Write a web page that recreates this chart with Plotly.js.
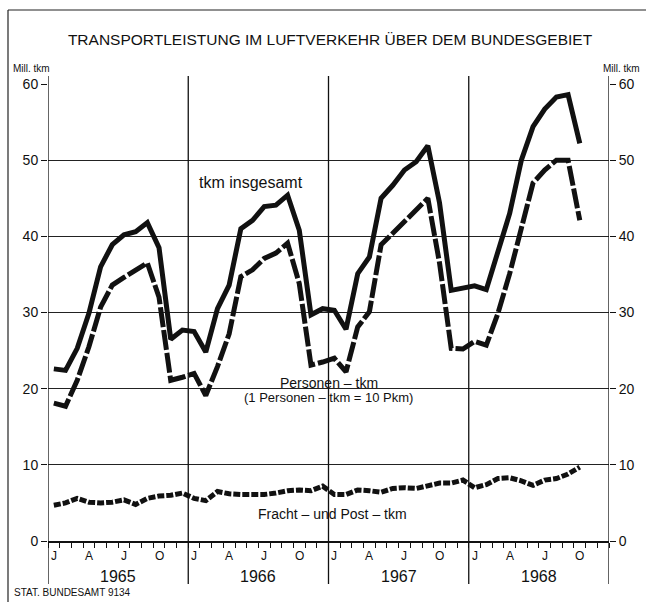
<!DOCTYPE html>
<html><head><meta charset="utf-8">
<script src="https://cdn.plot.ly/plotly-3.0.1.min.js"></script>
<style>html,body{margin:0;padding:0;background:#fff}#c{width:646px;height:602px}</style>
</head><body><div id="c"></div>
<script>
// Monthly values, Jan 1965 – Oct 1968 (Mill. tkm)
const years = ['1965','1966','1967','1968'];
const monthLetters = ['J','A','J','O']; // Jan, Apr, Jul, Oct
const monthLetterIdx = [0,3,6,9];
const total = [22.6,22.4,25.3,29.9,36.0,38.9,40.2,40.6,41.8,38.5,26.5,27.7,
  27.5,24.8,30.5,33.6,41.0,42.1,43.9,44.1,45.4,40.8,29.7,30.5,
  30.3,27.8,35.1,37.3,45.0,46.7,48.7,49.8,51.9,44.4,32.9,33.2,
  33.5,33.0,37.8,43.0,50.0,54.4,56.7,58.3,58.6,52.2];
const personen = [18.1,17.7,21.1,25.5,30.7,33.6,34.6,35.6,36.5,32.0,21.1,21.5,
  22.0,19.1,22.9,27.2,34.7,35.6,37.1,37.8,39.1,33.8,23.1,23.5,
  24.0,22.2,28.1,30.1,38.9,40.4,41.9,43.5,45.0,36.5,25.3,25.2,
  26.2,25.7,29.9,35.1,41.3,47.0,48.7,50.0,50.0,42.1];
const fracht = [4.7,5.0,5.6,5.1,5.0,5.1,5.4,4.8,5.6,5.9,6.0,6.3,
  5.6,5.3,6.5,6.2,6.1,6.1,6.1,6.3,6.6,6.7,6.6,7.2,
  6.1,6.1,6.7,6.6,6.4,6.9,7.0,6.9,7.3,7.6,7.6,8.0,
  7.0,7.4,8.2,8.3,7.9,7.3,8.0,8.2,8.8,9.7];
const yTicks = [0,10,20,30,40,50,60];

const W=646,H=602, L=48, R=37, T=84, B=61;
const pw=W-L-R, ph=H-T-B;
const px=x=>(x-L)/pw, py=y=>(H-B-y)/ph;
const FONT="'Liberation Sans Narrow','Liberation Sans',Arial,sans-serif";
const C='#111';
const xs = total.map((_,i)=>i+0.5);
const nMonths = years.length*12;

const traces = [
  {x:xs, y:total, mode:'lines', line:{color:C,width:5}, hoverinfo:'skip'},
  {x:xs, y:personen, mode:'lines', line:{color:C,width:5,dash:'20px,3px'}, hoverinfo:'skip'},
  {x:xs, y:fracht, mode:'lines', line:{color:C,width:5,dash:'7px,2px'}, hoverinfo:'skip'},
  {x:[0], y:[0], xaxis:'x', yaxis:'y2', mode:'markers', marker:{opacity:0}, hoverinfo:'skip'}
];

const shapes=[];
for(let i=0;i<=years.length;i++){
  shapes.push({type:'line',xref:'x',yref:'paper',x0:i*12,x1:i*12,y0:py(584),y1:py(76),line:{color:C,width:1.3}});
}
// outer frame (left + top)
shapes.push({type:'line',xref:'paper',yref:'paper',x0:px(8),x1:px(8),y0:py(602),y1:py(10),line:{color:'#222',width:1.2}});
shapes.push({type:'line',xref:'paper',yref:'paper',x0:px(8),x1:px(646),y0:py(10),y1:py(10),line:{color:'#222',width:1.2}});

const A=(text,x,y,xref,yref,size,extra)=>Object.assign({text,x,y,xref,yref,showarrow:false,xanchor:'center',yanchor:'middle',font:{size,family:FONT,color:C}},extra||{});
const ann=[
  A('tkm insgesamt',17.4,47.1,'x','y',16),
  A('Personen – tkm',24.0,20.8,'x','y',14),
  A('(1 Personen – tkm = 10 Pkm)',24.0,18.8,'x','y',13),
  A('Fracht – und Post – tkm',24.3,3.6,'x','y',14),
  A('Mill. tkm',px(11),py(68),'paper','paper',10,{xanchor:'left'}),
  A('Mill. tkm',px(642),py(68),'paper','paper',10,{xanchor:'right'}),
  A('STAT. BUNDESAMT 9134',px(12),py(592),'paper','paper',10,{xanchor:'left'})
];
years.forEach((yr,i)=>{
  ann.push(A(yr,i*12+6,py(576),'x','paper',16));
  monthLetterIdx.forEach((m,k)=>ann.push(A(monthLetters[k],i*12+m+0.5,py(556),'x','paper',12)));
});

const layout={
  width:W,height:H,margin:{l:L,r:R,t:T,b:B},
  paper_bgcolor:'#fff',plot_bgcolor:'#fff',showlegend:false,
  title:{text:'TRANSPORTLEISTUNG IM LUFTVERKEHR ÜBER DEM BUNDESGEBIET',x:px(330),xanchor:'center',y:1-40/H,yanchor:'middle',xref:'paper',font:{size:15.5,family:FONT,color:C}},
  xaxis:{range:[0,nMonths],tickmode:'linear',tick0:0,dtick:1,ticks:'outside',ticklen:5,tickcolor:C,tickwidth:1,showticklabels:false,showgrid:false,zeroline:false,showline:true,linecolor:C,linewidth:1.5},
  yaxis:{range:[0,60],tickmode:'array',tickvals:yTicks,ticks:'outside',ticklen:6,tickcolor:C,showgrid:true,gridcolor:'#222',gridwidth:1,zeroline:false,showline:false,tickfont:{size:14,family:FONT,color:C}},
  yaxis2:{overlaying:'y',side:'right',anchor:'x',range:[0,60],tickmode:'array',tickvals:yTicks,ticks:'outside',ticklen:6,tickcolor:C,showgrid:false,zeroline:false,showline:false,tickfont:{size:14,family:FONT,color:C}},
  shapes:shapes,annotations:ann
};
Plotly.newPlot('c',traces,layout,{staticPlot:true});
</script></body></html>
